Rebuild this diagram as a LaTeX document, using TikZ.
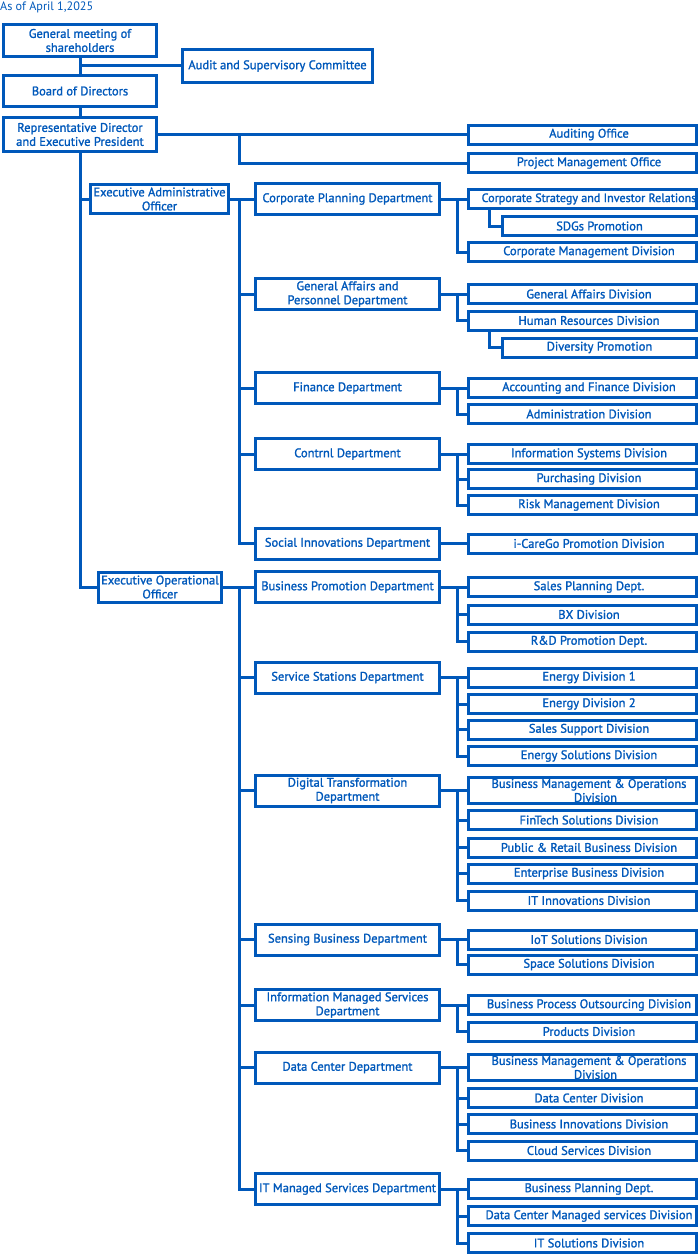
\documentclass[tikz,border=0pt]{standalone}
\usepackage{fontspec}
\setmainfont{PT Sans}[BoldFont={PT Sans},BoldFeatures={FakeBold=1.5}]
\usepackage{tikz}
\definecolor{orgblue}{RGB}{0,88,186}

\begin{document}
\begin{tikzpicture}[x=1pt,y=-1pt]
        \tikzstyle{box}=[draw=orgblue,line width=3pt,text=orgblue,align=center,inner sep=1pt,font=\fontsize{12.5}{14}\selectfont\bfseries]
        \tikzstyle{top node}=[box,minimum width=153pt,minimum height=32pt]
        \tikzstyle{dept node}=[box,minimum width=184pt,minimum height=31pt]
        \tikzstyle{div node}=[box,minimum width=228pt,minimum height=19pt,execute at begin node=\hspace*{13pt}]
        \tikzstyle{sub node}=[box,minimum width=194pt,minimum height=19pt]
        \tikzstyle{link}=[draw=orgblue,line width=3pt]
        \useasboundingbox (0,0) rectangle (700,1255);

        \node[text=orgblue,anchor=west,inner sep=0pt,font=\fontsize{12.2}{14}\selectfont] (date) at (0,7) {As of April 1,2025};

        % top
        \node[top node] (gm) at (80,40.5) {General meeting of\\shareholders};
        \node[top node,minimum height=31pt] (board) at (80,91) {Board of Directors};
        \node[top node,minimum height=34pt] (rep) at (80,134.5) {Representative Director\\and Executive President};
        \node[box,minimum width=190pt,minimum height=33pt] (audit) at (277.5,66) {Audit and Supervisory Committee};
        \node[div node] (audoff) at (582.5,134.5) {Auditing Office};
        \node[div node] (pmo) at (582.5,163) {Project Management Office};

        \node[box,minimum width=138pt,minimum height=29pt] (eao) at (159.5,199) {Executive Administrative\\Officer};
        \node[box,minimum width=123pt,minimum height=30pt] (eoo) at (160,587) {Executive Operational\\Officer};

        % departments
        \node[dept node] (cpd) at (347.5,199) {Corporate Planning Department};
        \node[dept node] (gapd) at (347.5,294) {General Affairs and\\Personnel Department};
        \node[dept node] (fin) at (347.5,388) {Finance Department};
        \node[dept node] (ctrl) at (347.5,454) {Contrnl Department};
        \node[dept node] (sid) at (347.5,543.5) {Social Innovations Department};
        \node[dept node] (bpd) at (347.5,587) {Business Promotion Department};
        \node[dept node] (ssd) at (347.5,677.5) {Service Stations Department};
        \node[dept node] (dtd) at (347.5,790.5) {Digital Transformation\\Department};
        \node[dept node] (sbd) at (347.5,939.5) {Sensing Business Department};
        \node[dept node] (imsd) at (347.5,1005) {Information Managed Services\\Department};
        \node[dept node] (dcd) at (347.5,1067.5) {Data Center Department};
        \node[dept node] (itmsd) at (347.5,1189) {IT Managed Services Department};

        % divisions
        \node[div node,execute at begin node={},inner xsep=0pt,font=\fontsize{12.1}{14}\selectfont\bfseries] (csir) at (582.5,199) {Corporate Strategy and Investor Relations};
        \node[sub node] (sdgs) at (599.5,226) {SDGs Promotion};
        \node[div node] (cmd) at (582.5,252) {Corporate Management Division};
        \node[div node] (gad) at (582.5,294) {General Affairs Division};
        \node[div node] (hrd) at (582.5,320.5) {Human Resources Division};
        \node[sub node] (divp) at (599.5,347.5) {Diversity Promotion};
        \node[div node] (afd) at (582.5,388) {Accounting and Finance Division};
        \node[div node] (adm) at (582.5,414) {Administration Division};
        \node[div node] (isd) at (582.5,454) {Information Systems Division};
        \node[div node] (pur) at (582.5,479) {Purchasing Division};
        \node[div node] (risk) at (582.5,505) {Risk Management Division};
        \node[div node] (icare) at (582.5,543.5) {i-CareGo Promotion Division};
        \node[div node] (spd) at (582.5,587) {Sales Planning Dept.};
        \node[div node] (bx) at (582.5,614.5) {BX Division};
        \node[div node] (rnd) at (582.5,641.5) {R\&D Promotion Dept.};
        \node[div node] (ed1) at (582.5,677.5) {Energy Division 1};
        \node[div node] (ed2) at (582.5,704) {Energy Division 2};
        \node[div node] (ssup) at (582.5,729.5) {Sales Support Division};
        \node[div node] (esd) at (582.5,756) {Energy Solutions Division};
        \node[div node,minimum height=26pt] (bmoa) at (582.5,790.5) {Business Management \& Operations\\\hspace*{13pt}Division};
        \node[div node] (fts) at (582.5,820) {FinTech Solutions Division};
        \node[div node] (prbd) at (582.5,847.5) {Public \& Retail Business Division};
        \node[div node] (ebd) at (582.5,873.5) {Enterprise Business Division};
        \node[div node] (iti) at (582.5,900.5) {IT Innovations Division};
        \node[div node] (iot) at (582.5,939.5) {IoT Solutions Division};
        \node[div node] (space) at (582.5,964.5) {Space Solutions Division};
        \node[div node] (bpo) at (582.5,1005) {Business Process Outsourcing Division};
        \node[div node] (prod) at (582.5,1031.5) {Products Division};
        \node[div node,minimum height=26pt] (bmob) at (582.5,1067.5) {Business Management \& Operations\\\hspace*{13pt}Division};
        \node[div node] (dcdiv) at (582.5,1098) {Data Center Division};
        \node[div node] (bid) at (582.5,1124) {Business Innovations Division};
        \node[div node] (csd) at (582.5,1150.5) {Cloud Services Division};
        \node[div node] (bplan) at (582.5,1189) {Business Planning Dept.};
        \node[div node] (dcms) at (582.5,1216) {Data Center Managed services Division};
        \node[div node] (its) at (582.5,1243) {IT Solutions Division};

        % top links
        \draw[link] (gm.south) -- (board.north);
        \draw[link] (board.south) -- (rep.north);
        \draw[link] (audit.west) -- (audit.west -| gm.south);
        \draw[link] (rep.east) -- (audoff.west);
        \draw[link] (pmo.west) -- ++(-228,0) |- (rep.east);
        \draw[link] (rep.south) |- (eoo.west);
        \draw[link] (eao.west) -- (eao.west -| rep.south);

        % officers to departments
        \draw[link] (eao.east) -- (cpd.west);
        \draw[link] (sid.west) -- ++(-15,0) |- (eao.east);
        \draw[link] (gapd.west) -- ++(-15,0);
        \draw[link] (fin.west) -- ++(-15,0);
        \draw[link] (ctrl.west) -- ++(-15,0);
        \draw[link] (eoo.east) -- (bpd.west);
        \draw[link] (itmsd.west) -- ++(-15,0) |- (eoo.east);
        \draw[link] (ssd.west) -- ++(-15,0);
        \draw[link] (dtd.west) -- ++(-15,0);
        \draw[link] (sbd.west) -- ++(-15,0);
        \draw[link] (imsd.west) -- ++(-15,0);
        \draw[link] (dcd.west) -- ++(-15,0);

        % departments to divisions
        \draw[link] (cpd.east) -- (csir.west);
        \draw[link] (cmd.west) -- ++(-10,0) |- (cpd.east);
        \draw[link] (sdgs.west) -- ++(-12,0) coordinate (sdgsup) -- (sdgsup |- csir.south);

        \draw[link] (gapd.east) -- (gad.west);
        \draw[link] (hrd.west) -- ++(-10,0) |- (gapd.east);
        \draw[link] (divp.west) -- ++(-12,0) coordinate (divup) -- (divup |- hrd.south);

        \draw[link] (fin.east) -- (afd.west);
        \draw[link] (adm.west) -- ++(-10,0) |- (fin.east);

        \draw[link] (ctrl.east) -- (isd.west);
        \draw[link] (risk.west) -- ++(-10,0) |- (ctrl.east);
        \draw[link] (pur.west) -- ++(-10,0);

        \draw[link] (sid.east) -- (icare.west);

        \draw[link] (bpd.east) -- (spd.west);
        \draw[link] (rnd.west) -- ++(-10,0) |- (bpd.east);
        \draw[link] (bx.west) -- ++(-10,0);

        \draw[link] (ssd.east) -- (ed1.west);
        \draw[link] (esd.west) -- ++(-10,0) |- (ssd.east);
        \draw[link] (ed2.west) -- ++(-10,0);
        \draw[link] (ssup.west) -- ++(-10,0);

        \draw[link] (dtd.east) -- (bmoa.west);
        \draw[link] (iti.west) -- ++(-10,0) |- (dtd.east);
        \draw[link] (fts.west) -- ++(-10,0);
        \draw[link] (prbd.west) -- ++(-10,0);
        \draw[link] (ebd.west) -- ++(-10,0);

        \draw[link] (sbd.east) -- (iot.west);
        \draw[link] (space.west) -- ++(-10,0) |- (sbd.east);

        \draw[link] (imsd.east) -- (bpo.west);
        \draw[link] (prod.west) -- ++(-10,0) |- (imsd.east);

        \draw[link] (dcd.east) -- (bmob.west);
        \draw[link] (csd.west) -- ++(-10,0) |- (dcd.east);
        \draw[link] (dcdiv.west) -- ++(-10,0);
        \draw[link] (bid.west) -- ++(-10,0);

        \draw[link] (itmsd.east) -- (bplan.west);
        \draw[link] (its.west) -- ++(-10,0) |- (itmsd.east);
        \draw[link] (dcms.west) -- ++(-10,0);
    \end{tikzpicture}
\end{document}
